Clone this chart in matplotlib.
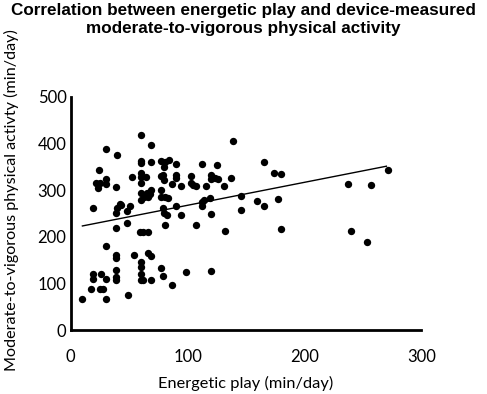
import matplotlib
matplotlib.use("Agg")
import matplotlib.pyplot as plt
import numpy as np

# energetic play (min/day) vs MVPA (min/day)
play = [10, 17, 19, 19, 25, 28, 26, 30, 30, 30, 19, 22, 24, 23, 25, 30, 30, 30,
        39, 40, 39, 40, 42, 43, 39, 39, 39, 39, 39, 39, 49, 48, 48, 51, 52, 54,
        60, 60, 60, 60, 60, 60, 60, 60, 59, 62, 66, 60, 60, 60, 60, 62, 64, 63,
        65, 66, 69, 69, 69, 68, 66, 69, 69, 77, 77, 77, 77, 79, 80, 80, 81, 81,
        79, 80, 82, 81, 77, 79, 83, 84, 87, 87, 90, 90, 90, 90, 94, 94, 99, 103,
        103, 105, 107, 107, 112, 112, 112, 114, 116, 119, 120, 120, 120, 120, 123,
        125, 126, 131, 132, 137, 139, 146, 146, 159, 165, 165, 174, 180, 177, 180,
        237, 240, 253, 257, 271]
mvpa = [66, 88, 109, 119, 88, 88, 121, 109, 66, 181, 261, 316, 343, 304, 316, 323, 312, 387,
        307, 375, 251, 261, 269, 268, 218, 161, 155, 129, 113, 107, 74, 229, 254, 266, 327, 161,
        418, 362, 357, 337, 327, 314, 293, 279, 211, 211, 211, 146, 136, 121, 107, 107, 327, 286,
        293, 286, 396, 361, 300, 291, 164, 159, 107, 362, 329, 300, 286, 332, 321, 350, 361, 286,
        261, 250, 246, 224, 132, 116, 282, 364, 96, 313, 356, 332, 325, 266, 246, 309, 125, 331,
        314, 311, 309, 224, 356, 275, 266, 279, 309, 282, 332, 323, 249, 127, 325,
        353, 324, 309, 212, 326, 404, 287, 257, 277, 266, 361, 337, 334, 281, 216,
        313, 213, 188, 311, 343]

fit_x = [10, 270]
fit_y = [223, 351]

x_ticks = [0, 100, 200, 300]
y_ticks = [0, 100, 200, 300, 400, 500]

fig = plt.figure(figsize=(4.87, 3.94), dpi=100)
ax = fig.add_axes([0.1452, 0.1624, 0.7203, 0.5922])

ax.scatter(play, mvpa, s=28, color="black", zorder=3, linewidths=0)
ax.plot(fit_x, fit_y, color="black", lw=1.0)

ax.set_xlim(0, 300)
ax.set_ylim(0, 500)
ax.set_xticks(x_ticks)
ax.set_yticks(y_ticks)
for s in ["top", "right"]:
    ax.spines[s].set_visible(False)
for s in ["left", "bottom"]:
    ax.spines[s].set_linewidth(2.0)
ax.tick_params(length=0, labelsize=12)
ax.tick_params(axis="x", pad=14)
ax.tick_params(axis="y", pad=3)
for lab in ax.get_xticklabels() + ax.get_yticklabels():
    lab.set_family("Lato")

ax.set_xlabel("Energetic play (min/day)", fontsize=11.8, family="Lato")
ax.xaxis.set_label_coords(0.5, -0.195)
ax.set_ylabel("Moderate-to-vigorous physical activty (min/day)", fontsize=11.6,
              family="Lato")
ax.yaxis.set_label_coords(-0.148, 0.557)

fig.text(0.5, 0.992, "Correlation between energetic play and device-measured\n"
         "moderate-to-vigorous physical activity", ha="center", va="top",
         fontsize=12.3, fontweight="bold", family="Liberation Sans", linespacing=1.2)

fig.savefig("out.png", dpi=100)
